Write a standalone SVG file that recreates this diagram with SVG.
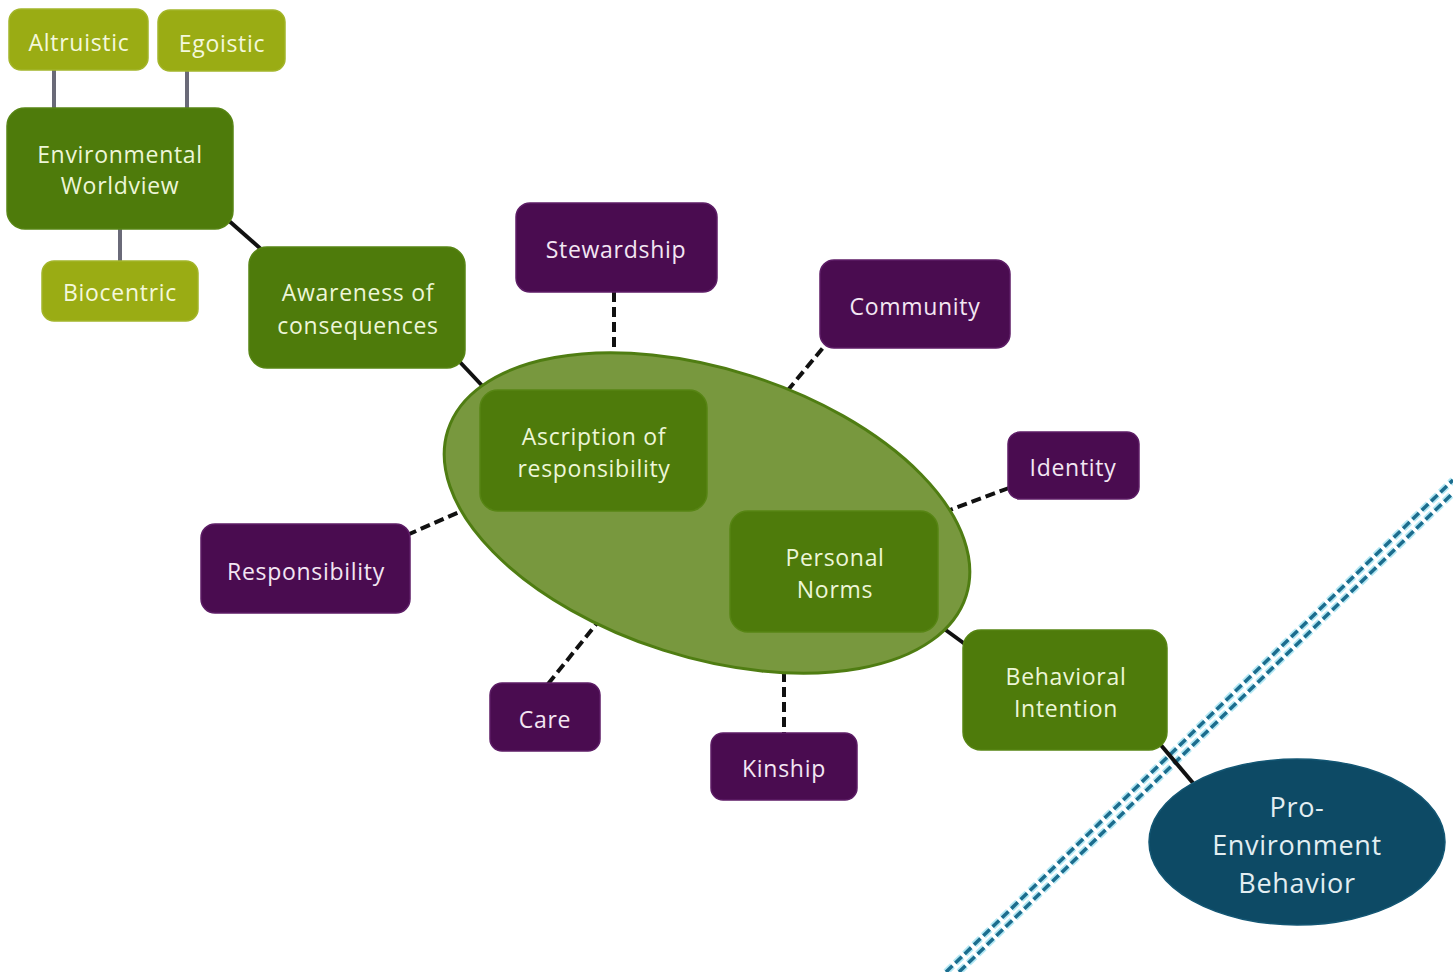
<svg xmlns="http://www.w3.org/2000/svg" width="1453" height="972" viewBox="0 0 1453 972">
  <style>
    .lbl { font-family: "Open Sans", "Liberation Sans", sans-serif; font-size: 23px; letter-spacing: 0.7px; text-anchor: middle; }
    .olive rect { fill: #9aac14; stroke: #a3b52a; stroke-width: 1.5; }
    .olive text { fill: #f4f8dc; }
    .green rect { fill: #4e7b0b; stroke: #578514; stroke-width: 1.5; }
    .green text { fill: #edf6d8; }
    .purple rect { fill: #4a0c50; stroke: #5d1d66; stroke-width: 1.5; }
    .purple text { fill: #f3e6f3; }
    .grey { stroke: #6a6a78; stroke-width: 4; fill: none; }
    .solid { stroke: #111; stroke-width: 4; fill: none; }
    .dash { stroke: #111; stroke-width: 4; fill: none; stroke-dasharray: 10 5; }
    .bnd-halo { stroke: #b4e8f4; stroke-width: 7; fill: none; stroke-dasharray: 9 4; }
    .bnd { stroke: #1c6d8e; stroke-width: 3.5; fill: none; stroke-dasharray: 9 4; }
  </style>

  <rect width="1453" height="972" fill="#ffffff"/>

  <!-- boundary: double dashed diagonal -->
  <g id="boundary">
    <line class="bnd-halo" x1="946" y1="972" x2="1453" y2="480"/>
    <line class="bnd-halo" x1="959" y1="972" x2="1453" y2="493"/>
    <line class="bnd" x1="946" y1="972" x2="1453" y2="480"/>
    <line class="bnd" x1="959" y1="972" x2="1453" y2="493"/>
  </g>

  <!-- connectors -->
  <g id="connectors">
    <line class="grey" x1="54" y1="70" x2="54" y2="110"/>
    <line class="grey" x1="187" y1="71" x2="187" y2="110"/>
    <line class="grey" x1="120" y1="228" x2="120" y2="262"/>
    <line class="solid" x1="228" y1="220" x2="262" y2="250"/>
    <line class="solid" x1="458" y1="360" x2="490" y2="394"/>
    <line class="solid" x1="700" y1="500" x2="736" y2="524"/>
    <line class="solid" x1="932" y1="620" x2="969" y2="647"/>
    <line class="solid" x1="1160" y1="744" x2="1193" y2="783"/>
    <line class="dash" x1="614" y1="292" x2="614" y2="353"/>
    <line class="dash" x1="832" y1="337" x2="788" y2="390"/>
    <line class="dash" x1="1009" y1="488" x2="950" y2="510"/>
    <line class="dash" x1="407" y1="535" x2="466" y2="509"/>
    <line class="dash" x1="548" y1="684" x2="598" y2="622"/>
    <line class="dash" x1="784" y1="672" x2="784" y2="733"/>
  </g>

  <!-- grouping ellipse -->
  <g id="core">
    <ellipse cx="707" cy="513" rx="272" ry="144" transform="rotate(17.7 707 513)" fill="#78983e" stroke="#4f7d12" stroke-width="3"/>
  </g>

  <g id="altruistic" class="olive">
    <rect x="9" y="9" width="139" height="61" rx="12"/>
    <text class="lbl" x="79" y="51">Altruistic</text>
  </g>
  <g id="egoistic" class="olive">
    <rect x="158" y="10" width="127" height="61" rx="12"/>
    <text class="lbl" x="222" y="52">Egoistic</text>
  </g>
  <g id="biocentric" class="olive">
    <rect x="42" y="261" width="156" height="60" rx="12"/>
    <text class="lbl" x="120" y="301">Biocentric</text>
  </g>

  <g id="worldview" class="green">
    <rect x="7" y="108" width="226" height="121" rx="18"/>
    <text class="lbl" x="120" y="163">Environmental</text>
    <text class="lbl" x="120" y="194">Worldview</text>
  </g>
  <g id="awareness" class="green">
    <rect x="249" y="247" width="216" height="121" rx="18"/>
    <text class="lbl" x="358" y="301">Awareness of</text>
    <text class="lbl" x="358" y="334">consequences</text>
  </g>
  <g id="ascription" class="green">
    <rect x="480" y="390" width="227" height="121" rx="18"/>
    <text class="lbl" x="594" y="445">Ascription of</text>
    <text class="lbl" x="594" y="477">responsibility</text>
  </g>
  <g id="norms" class="green">
    <rect x="730" y="511" width="208" height="121" rx="18"/>
    <text class="lbl" x="835" y="566">Personal</text>
    <text class="lbl" x="835" y="598">Norms</text>
  </g>
  <g id="intention" class="green">
    <rect x="963" y="630" width="204" height="120" rx="18"/>
    <text class="lbl" x="1066" y="685">Behavioral</text>
    <text class="lbl" x="1066" y="717">Intention</text>
  </g>

  <g id="stewardship" class="purple">
    <rect x="516" y="203" width="201" height="89" rx="14"/>
    <text class="lbl" x="616" y="258">Stewardship</text>
  </g>
  <g id="community" class="purple">
    <rect x="820" y="260" width="190" height="88" rx="14"/>
    <text class="lbl" x="915" y="315">Community</text>
  </g>
  <g id="identity" class="purple">
    <rect x="1008" y="432" width="131" height="67" rx="12"/>
    <text class="lbl" x="1073" y="476">Identity</text>
  </g>
  <g id="responsibility" class="purple">
    <rect x="201" y="524" width="209" height="89" rx="14"/>
    <text class="lbl" x="306" y="580">Responsibility</text>
  </g>
  <g id="care" class="purple">
    <rect x="490" y="683" width="110" height="68" rx="12"/>
    <text class="lbl" x="545" y="728">Care</text>
  </g>
  <g id="kinship" class="purple">
    <rect x="711" y="733" width="146" height="67" rx="12"/>
    <text class="lbl" x="784" y="777">Kinship</text>
  </g>

  <g id="behavior">
    <ellipse cx="1297" cy="842" rx="148" ry="83" fill="#0d4a65" stroke="#145774" stroke-width="1.5"/>
    <text class="lbl" x="1297" y="817" style="font-size:27px" fill="#e2eef2">Pro-</text>
    <text class="lbl" x="1297" y="855" style="font-size:27px" fill="#e2eef2">Environment</text>
    <text class="lbl" x="1297" y="893" style="font-size:27px" fill="#e2eef2">Behavior</text>
  </g>
</svg>
